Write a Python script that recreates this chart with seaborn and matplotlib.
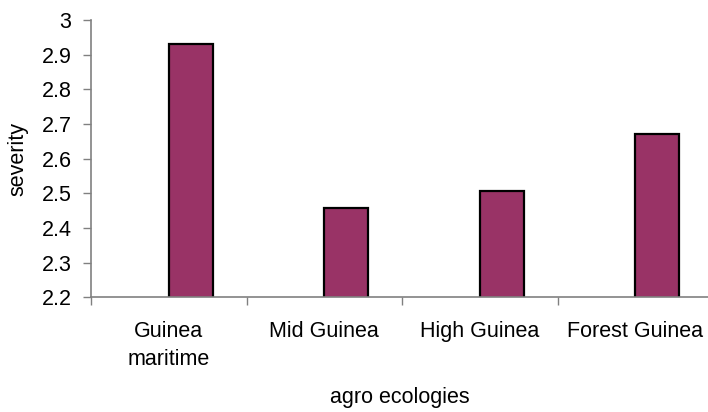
import matplotlib
matplotlib.use("Agg")
import matplotlib.pyplot as plt
import seaborn as sns
import numpy as np
import pandas as pd

categories = ["Guinea\nmaritime", "Mid Guinea", "High Guinea", "Forest Guinea"]
severity = [2.93, 2.458, 2.507, 2.671]
y_ticks = [2.2, 2.3, 2.4, 2.5, 2.6, 2.7, 2.8, 2.9, 3.0]
y_tick_labels = ["2.2", "2.3", "2.4", "2.5", "2.6", "2.7", "2.8", "2.9", "3"]

sns.set_theme(style="white")
plt.rcParams["font.family"] = ["Liberation Sans", "DejaVu Sans"]
plt.rcParams["text.color"] = "black"
plt.rcParams["axes.labelcolor"] = "black"
plt.rcParams["xtick.color"] = "black"
plt.rcParams["ytick.color"] = "black"

FS = 15.5

# empty companion series keeps the plotted bar in the right half of each category slot
df = pd.DataFrame({
    "ecology": categories * 2,
    "severity": [np.nan] * len(categories) + severity,
    "series": ["blank"] * len(categories) + ["severity"] * len(categories),
})

fig = plt.figure(figsize=(7.08, 4.12), dpi=100)
ax = fig.add_axes([91 / 708, 1 - 297.3 / 412, 622 / 708, 277.3 / 412])

sns.barplot(data=df, x="ecology", y="severity", hue="series",
            palette={"blank": "#993366", "severity": "#993366"},
            saturation=1, width=0.566, dodge=True, edgecolor="black",
            linewidth=1.6, legend=False, ax=ax, errorbar=None)

ax.set_ylim(2.2, 3.0)
ax.set_xlim(-0.5, len(categories) - 0.5)
ax.set_yticks(y_ticks)
ax.set_yticklabels(y_tick_labels, fontsize=FS)

# category boundaries carry the tick marks, names sit centred beneath each slot
ax.set_xticks(np.arange(len(categories) + 1) - 0.5)
ax.set_xticklabels([])
ax.set_xticks(np.arange(len(categories)), minor=True)
ax.set_xticklabels(categories, minor=True, fontsize=FS, linespacing=1.45)
ax.tick_params(axis="x", which="minor", length=0, pad=17)
ax.tick_params(axis="x", which="major", direction="out", length=6, width=1,
               color="#808080", bottom=True)
ax.tick_params(axis="y", direction="out", length=6, width=1, color="#808080",
               left=True, pad=8)

for side in ["top", "right"]:
    ax.spines[side].set_visible(False)
for side in ["left", "bottom"]:
    ax.spines[side].set_color("#808080")
    ax.spines[side].set_linewidth(1.2)

ax.set_xlabel("agro ecologies", fontsize=FS)
ax.xaxis.set_label_coords((400 - 91) / 622, (297.3 - 398) / 277.3)
ax.xaxis.label.set_verticalalignment("center")
ax.set_ylabel("severity", fontsize=FS)
ax.yaxis.set_label_coords((17.5 - 91) / 622, 0.5)
ax.yaxis.label.set_verticalalignment("center")

fig.savefig("out.png", dpi=100)
